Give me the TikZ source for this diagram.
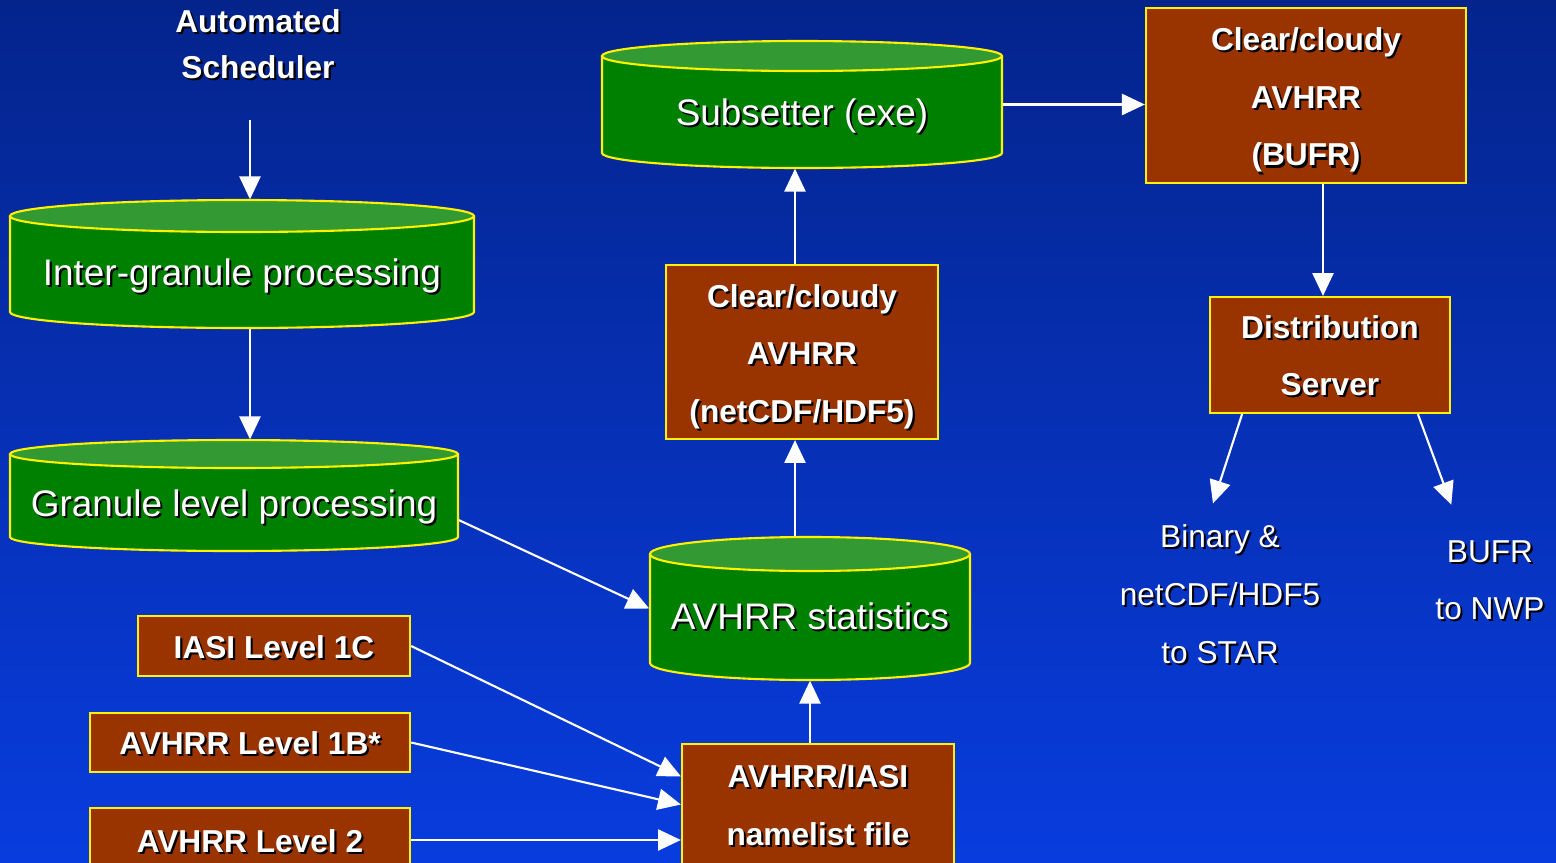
\documentclass[tikz,border=0pt]{standalone}
\usepackage{fontspec}
\setmainfont{Liberation Sans}
\usetikzlibrary{arrows.meta}

\definecolor{bgtop}{RGB}{4,36,140}
\definecolor{bgbot}{RGB}{8,60,222}
\definecolor{drumbody}{RGB}{0,128,0}
\definecolor{drumlid}{RGB}{51,153,51}
\definecolor{brick}{RGB}{153,51,0}

% white text with a small black shadow, dropped by \shdrop
\newlength{\shdrop}
\newcommand{\shd}[1]{\raisebox{-\shdrop}[\height][\depth]{\rlap{\kern0.6pt\raisebox{-0.6pt}{\textcolor{black}{#1}}}#1}}

% cylinder: name, x centre, y of lid, half width, depth, lid radius, text
\newcommand{\drum}[7]{%
  \fill[drumbody] (#2-#4,#3) -- (#2-#4,#3+#5) arc[start angle=180,end angle=0,x radius=#4,y radius=#6] -- (#2+#4,#3) -- cycle;
  \draw[yellow,line width=0.6pt] (#2-#4,#3) -- (#2-#4,#3+#5) arc[start angle=180,end angle=0,x radius=#4,y radius=#6] -- (#2+#4,#3);
  \draw[yellow,line width=0.6pt,fill=drumlid] (#2,#3) ellipse[x radius=#4,y radius=#6];
  \node[drum,minimum width={#4*0.02cm},minimum height={(#5+2*#6)*0.01cm}] (#1) at (#2,#3+#5/2) {\shd{#7}};
}

\begin{document}
\begin{tikzpicture}[x=0.01cm,y=-0.01cm,
    flow/.style={white,line width=0.6pt,-{Triangle[width=6pt,length=6.5pt]}},
    block/.style={draw=yellow,fill=brick,line width=0.6pt,text=white,align=center,
      font=\fontsize{9}{16.4}\selectfont\bfseries,inner sep=0pt,
      execute at begin node={\setlength{\shdrop}{1.6pt}}},
    card/.style={block,execute at begin node={\setlength{\shdrop}{0.5pt}}},
    drum/.style={inner sep=0pt,text=white,font=\fontsize{10.5}{12}\selectfont,
      text height=12pt,text depth=0pt},
    tag/.style={text=white,align=center,font=\fontsize{9}{16.4}\selectfont,inner sep=6pt,
      execute at begin node={\setlength{\shdrop}{0.9pt}}}]
  \useasboundingbox (0,0) rectangle (1556,863);
  \shade[top color=bgtop,bottom color=bgbot] (0,0) rectangle (1556,863);

  % left column
  \node[text=white,align=center,font=\fontsize{9}{13.1}\selectfont\bfseries,inner sep=0pt] (sched) at (258,45)
    {\shd{Automated}\\\shd{Scheduler}};
  \drum{inter}{242}{216}{232}{96}{16}{Inter-granule processing}
  \drum{gran}{234}{454}{224}{83}{14}{Granule level processing}
  \node[card,minimum width=2.72cm,minimum height=0.6cm] (iasi) at (274,646) {\shd{IASI Level 1C}};
  \node[card,minimum width=3.2cm,minimum height=0.59cm] (lvlb) at (250,742.5) {\shd{AVHRR Level 1B*}};
  \node[card,minimum width=3.2cm,minimum height=0.64cm] (lvltwo) at (250,840) {\shd{AVHRR Level 2}};

  % middle column
  \drum{subs}{802}{56}{200}{97}{15}{Subsetter (exe)}
  \node[block,minimum width=2.72cm,minimum height=1.74cm] (cdf) at (802,352)
    {\shd{Clear/cloudy}\\\shd{AVHRR}\\\shd{(netCDF/HDF5)}};
  \drum{stats}{810}{554}{160}{109}{17}{AVHRR statistics}
  \node[card,minimum width=2.72cm,minimum height=1.21cm] (names) at (818,804.5)
    {\shd{AVHRR/IASI}\\\shd{namelist file}};

  % right column
  \node[block,minimum width=3.2cm,minimum height=1.75cm] (bufr) at (1306,95.5)
    {\shd{Clear/cloudy}\\\shd{AVHRR}\\\shd{(BUFR)}};
  \node[card,minimum width=2.4cm,minimum height=1.16cm] (dist) at (1330,355)
    {\shd{Distribution}\\\shd{Server}};
  \node[tag] (star) at (1220,592) {\shd{Binary \&}\\\shd{netCDF/HDF5}\\\shd{to STAR}};
  \node[tag] (nwp) at (1490,578) {\shd{BUFR}\\\shd{to NWP}};

  \coordinate (tick) at (250,120);
  \coordinate (mid) at (795,300);
  \coordinate (drop) at (1323,240);

  \draw[flow] (tick) -- (tick |- inter.north);
  \draw[flow] (tick |- inter.south) -- (tick |- gran.north);
  \draw[flow] ([yshift=-7pt]gran.east) -- (stats.west);
  \draw[flow] (iasi.east) -- ([yshift=8pt]names.west);
  \draw[flow] (lvlb.east) -- (names.west);
  \draw[flow] (lvltwo.east) -- (lvltwo.east -| names.west);
  \draw[flow] (names.north -| stats.south) -- (stats.south);
  \draw[flow] (mid |- stats.north) -- (mid |- cdf.south);
  \draw[flow] (mid |- cdf.north) -- (mid |- subs.south);
  \draw[flow] (subs.east) -- (subs.east -| bufr.west);
  \draw[flow] (drop |- bufr.south) -- (drop |- dist.north);
  \draw[flow] ([xshift=-25pt]dist.south) -- ([xshift=-2pt,yshift=-1pt]star.north);
  \draw[flow] ([xshift=25pt]dist.south) -- ([xshift=-11pt,yshift=3pt]nwp.north);
\end{tikzpicture}
\end{document}
